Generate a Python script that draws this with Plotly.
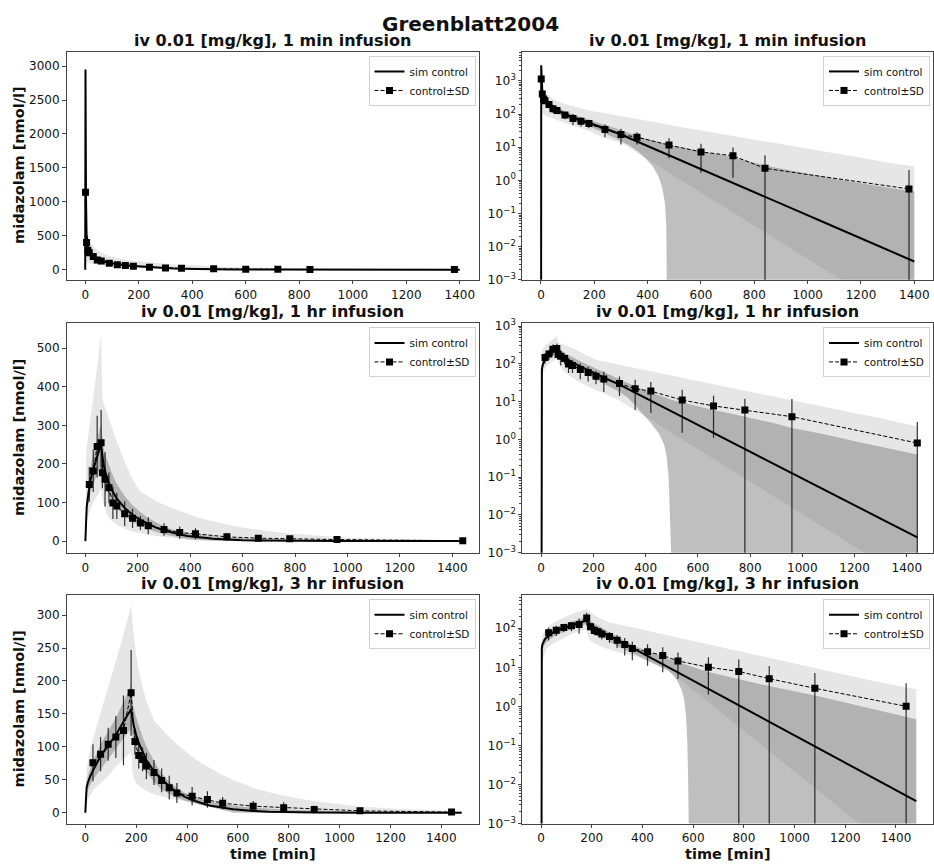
import numpy as np
import plotly.graph_objects as go

# ---------------- data ----------------
# 1 min infusion
t1_sim = [0, 1, 2, 3, 5, 10, 15, 20, 30, 45, 60, 90, 120, 150, 180, 240, 300, 330, 360, 390, 420, 440,
          455, 465, 470, 475, 480, 540, 600, 720, 840, 960, 1080, 1200, 1320, 1400]
sim1 = [0, 2950, 1700, 1050, 520, 330, 270, 240, 200, 160, 135, 100, 80, 66, 55, 36.5, 24.1, 18.9, 14.9,
        11.7, 9.22, 7.86, 6.97, 6.43, 6.18, 5.94, 5.70, 3.53, 2.18, 0.834, 0.319, 0.122, 0.0466, 0.0178,
        0.00679, 0.00358]
sdlo1 = [0, 2850, 1400, 850, 400, 255, 210, 188, 158, 126, 107, 79, 63, 52, 43, 26.5, 15.5, 11.5, 7.8, 4.8,
         2.6, 1.35, 0.6, 0.2, 0.04, 0, 0, 0, 0, 0, 0, 0, 0, 0, 0, 0]
sdhi1 = [0, 3000, 2000, 1250, 640, 405, 330, 292, 242, 194, 163, 121, 97, 80, 67, 46.5, 32.7, 26.3, 22,
         18.6, 15.8, 14.4, 13.3, 12.7, 12.3, 12.1, 11.8, 9.3, 7.7, 5.1, 2.8, 1.82, 1.2, 0.82, 0.57, 0.45]
min1 = [0, 1500, 800, 500, 110, 95, 90, 86, 80, 72, 66, 55, 46, 38, 31, 19, 13.5, 9.55, 6.76, 4.79, 3.39,
        2.69, 2.26, 2.02, 1.91, 1.80, 1.70, 0.85, 0.427, 0.107, 0.0269, 0.00676, 0.0017, 0.000427,
        0.000107, 0.0000427]
max1 = [0, 3080, 2100, 1400, 650, 480, 420, 390, 340, 290, 250, 200, 170, 145, 128, 105, 85, 78, 70, 64,
        58, 54.5, 52, 50.5, 49.7, 49, 47, 38.5, 32, 22, 15, 10, 7, 4.8, 3.2, 2.6]
t1_obs = [1, 5, 10, 15, 30, 45, 60, 90, 120, 150, 180, 240, 300, 360, 480, 600, 720, 840, 1380]
y1_obs = [1140, 400, 286, 250, 194, 144, 128, 93, 73, 60, 52, 34, 24, 20, 11.6, 7.2, 5.5, 2.3, 0.55]
sd1_obs = [300, 100, 60, 50, 45, 35, 30, 23, 27, 18, 15, 14, 12, 8, 7, 5.5, 4.3, 3.4, 1.5]

# 1 hr infusion
t2_sim = [0, 1, 2, 3, 5, 10, 15, 20, 30, 40, 50, 60, 65, 70, 80, 90, 105, 120, 150, 180, 210, 240, 270,
          300, 330, 360, 390, 420, 450, 470, 480, 488, 493, 497, 500, 520, 540, 600, 660, 720, 780, 900,
          960, 1080, 1200, 1320, 1440]
sim2 = [0, 30, 55, 70, 88, 115, 140, 160, 185, 210, 230, 250, 215, 195, 170, 150, 128, 110, 86, 68, 55,
        44, 35, 28.2, 22.1, 17.3, 13.5, 10.6, 8.27, 7.02, 6.47, 6.06, 5.82, 5.63, 5.50, 4.67, 3.96, 2.43,
        1.49, 0.91, 0.557, 0.209, 0.128, 0.048, 0.018, 0.00675, 0.00253]
sdlo2 = [0, 22, 40, 50, 66, 90, 110, 127, 147, 167, 182, 198, 170, 155, 135, 118, 100, 85, 65, 50, 39.5,
         30.5, 23.5, 18, 13, 8, 4.6, 2.7, 1.45, 0.75, 0.38, 0.1, 0.01, 0, 0, 0, 0, 0, 0, 0, 0, 0, 0, 0,
         0, 0, 0]
sdhi2 = [0, 38, 70, 90, 110, 140, 170, 193, 223, 253, 278, 302, 260, 240, 215, 195, 170, 148, 117, 93, 75,
         60, 48, 38, 31, 25.5, 21, 17.5, 14.5, 13.1, 12.4, 11.9, 11.6, 11.4, 11.2, 10.3, 9.5, 7.5, 6.0,
         4.9, 4.0, 2.6, 2.0, 1.4, 0.9, 0.6, 0.4]
min2 = [0, 15, 30, 40, 50, 65, 75, 85, 100, 112, 124, 135, 110, 95, 72, 60, 50, 43, 32, 25, 20, 16.5,
        13.5, 10.7, 8.0, 5.94, 4.42, 3.28, 2.44, 2.0, 1.81, 1.68, 1.6, 1.54, 1.5, 1.22, 1.0, 0.55, 0.305,
        0.168, 0.093, 0.0283, 0.0156, 0.00476, 0.00145, 0.00044, 0.000135]
max2 = [0, 120, 180, 210, 240, 270, 295, 320, 370, 420, 480, 536, 370, 355, 335, 315, 285, 258, 205, 160,
        128, 115, 104, 94, 86, 77, 70, 63, 57, 53.5, 52, 50.8, 50, 49.4, 49, 46, 43, 35, 29, 24, 19.5,
        13.2, 10.8, 7.3, 5, 3.4, 2.2]
t2_obs = [15, 30, 45, 60, 65, 75, 90, 105, 120, 150, 180, 210, 240, 300, 360, 420, 540, 660, 780, 960, 1440]
y2_obs = [147, 182, 245, 255, 177, 160, 138, 99, 91, 71, 59, 47, 40, 30, 22, 19, 11, 7.7, 6, 4, 0.8]
sd2_obs = [45, 55, 80, 85, 40, 70, 40, 42, 34, 32, 25, 18, 22, 16, 16, 14, 9.5, 6.6, 6, 7.8, 2.1]

# 3 hr infusion
t3_sim = [0, 1, 2, 3, 5, 10, 15, 20, 30, 45, 60, 90, 120, 150, 180, 185, 190, 200, 210, 225, 240, 270,
          300, 330, 360, 390, 420, 450, 480, 500, 520, 540, 555, 565, 572, 577, 580, 583, 600, 660, 720,
          780, 900, 1080, 1200, 1320, 1440, 1480]
sim3 = [0, 15, 25, 30, 38, 46, 52, 56, 64, 74, 86, 102, 118, 138, 157, 145, 133, 118, 106, 93, 80, 63,
        50.7, 39.8, 31.3, 24.5, 19.3, 15.1, 11.9, 10.1, 8.61, 7.33, 6.49, 5.99, 5.66, 5.44, 5.31, 5.18,
        4.52, 2.79, 1.72, 1.06, 0.403, 0.0944, 0.0359, 0.0136, 0.00519, 0.00376]
sdlo3 = [0, 10, 18, 22, 28, 34, 39, 43, 50, 58, 66, 82, 98, 113, 128, 118, 108, 95, 85, 72, 62, 47, 35,
         28.5, 23, 18.5, 15, 12, 10.0, 8.4, 6.3, 4.2, 2.6, 1.4, 0.55, 0.12, 0.015, 0, 0, 0, 0, 0, 0, 0,
         0, 0, 0, 0]
sdhi3 = [0, 18, 30, 36, 46, 56, 63, 68, 78, 90, 104, 124, 144, 168, 193, 175, 160, 145, 132, 115, 101, 78,
         60, 47, 37.5, 30.5, 25.5, 21.5, 18.5, 16.5, 15, 13.5, 12.6, 12.0, 11.6, 11.3, 11.1, 10.9, 10.0,
         7.6, 6.0, 4.9, 3.3, 1.9, 1.25, 0.82, 0.55, 0.47]
min3 = [0, 5, 8, 10, 14, 20, 24, 28, 34, 40, 45, 56, 70, 82, 92, 62, 52, 45, 41, 37, 33, 28, 24.5, 22, 20,
        17.5, 14, 11.8, 9.6, 8.4, 6.9, 5.6, 4.6, 4.1, 3.75, 3.52, 3.4, 3.28, 2.65, 1.29, 0.63, 0.306,
        0.072, 0.0082, 0.00192, 0.00045, 0.000106, 0.000065]
max3 = [0, 30, 45, 55, 65, 78, 88, 97, 112, 132, 150, 190, 230, 270, 315, 290, 270, 240, 215, 190, 170,
        140, 127, 115, 104, 94, 85, 77, 70, 65.5, 61.5, 57, 54.5, 52.5, 51.5, 50.5, 50, 49.5, 47, 38, 31.5,
        26, 17.5, 9.5, 6.4, 4.3, 3.1, 2.75]
t3_obs = [30, 60, 90, 120, 150, 180, 195, 210, 225, 240, 270, 300, 330, 360, 420, 480, 540, 660, 780, 900,
          1080, 1440]
y3_obs = [76, 89, 104, 115, 125, 182, 108, 87, 81, 71, 61, 49, 38, 30, 25, 20, 14.5, 10, 7.8, 5.1, 2.9, 1.0]
sd3_obs = [28, 26, 25, 32, 53, 65, 20, 20, 18, 20, 19, 18, 18, 15, 14, 12.5, 9.5, 8, 8, 5.7, 4.2, 2.9]

titles = ["iv 0.01 [mg/kg], 1 min infusion", "iv 0.01 [mg/kg], 1 hr infusion",
          "iv 0.01 [mg/kg], 3 hr infusion"]
suptitle = "Greenblatt2004"
ylabel = "midazolam [nmol/l]"
xlabel = "time [min]"
sim_label = "sim control"
obs_label = "control±SD"

# ---------------- layout geometry ----------------
W, H = 934, 868
FONT = "DejaVu Sans"
col_px = [(66.5, 478.5), (522.3, 933.0)]
row_px = [(46.7, 278.0), (322.3, 555.0), (598.3, 830.0)]
x_ranges = [[-70, 1470], [-72, 1500], [-74, 1546]]
ylin_ranges = [[-150, 3208], [-30, 564], [-16.4, 330]]
ylin_dtick = [500, 100, 50]
ylog_ranges = [[-3, 3.87], [-3, 3.07], [-3, 2.84]]

conds = [
    (t1_sim, sim1, sdlo1, sdhi1, min1, max1, t1_obs, y1_obs, sd1_obs),
    (t2_sim, sim2, sdlo2, sdhi2, min2, max2, t2_obs, y2_obs, sd2_obs),
    (t3_sim, sim3, sdlo3, sdhi3, min3, max3, t3_obs, y3_obs, sd3_obs),
]

SD_FILL = "rgba(128,128,128,0.5)"
MM_FILL = "rgba(128,128,128,0.2)"
SPINE = "#444444"

fig = go.Figure()
layout = dict(width=W, height=H, margin=dict(l=0, r=0, t=0, b=0), autosize=False,
              paper_bgcolor="white", plot_bgcolor="white", showlegend=True,
              font=dict(family=FONT, color="#111111"))
annotations = []

for r, (ts, sm, lo, hi, mn, mx, to, yo, so) in enumerate(conds):
    for c in range(2):
        idx = r * 2 + c + 1
        xa = "x" if idx == 1 else f"x{idx}"
        ya = "y" if idx == 1 else f"y{idx}"
        leg = "legend" if idx == 1 else f"legend{idx}"
        is_log = c == 1
        tsa = np.array(ts, dtype=float)

        def prep(a):
            a = np.array(a, dtype=float)
            return np.clip(a, 1e-12, None) if is_log else a

        # SD band
        fig.add_trace(go.Scatter(x=tsa, y=prep(lo), mode="lines", line=dict(width=0, color=SD_FILL),
                                 showlegend=False, hoverinfo="skip", xaxis=xa, yaxis=ya, legend=leg))
        fig.add_trace(go.Scatter(x=tsa, y=prep(hi), mode="lines", line=dict(width=0, color=SD_FILL),
                                 fill="tonexty", fillcolor=SD_FILL, showlegend=False, hoverinfo="skip",
                                 xaxis=xa, yaxis=ya, legend=leg))
        # min-max band
        fig.add_trace(go.Scatter(x=tsa, y=prep(mn), mode="lines", line=dict(width=0, color=MM_FILL),
                                 showlegend=False, hoverinfo="skip", xaxis=xa, yaxis=ya, legend=leg))
        fig.add_trace(go.Scatter(x=tsa, y=prep(mx), mode="lines", line=dict(width=0, color=MM_FILL),
                                 fill="tonexty", fillcolor=MM_FILL, showlegend=False, hoverinfo="skip",
                                 xaxis=xa, yaxis=ya, legend=leg))
        # simulation
        fig.add_trace(go.Scatter(x=tsa, y=prep(sm), mode="lines", line=dict(color="black", width=2),
                                 name=sim_label, legend=leg, xaxis=xa, yaxis=ya))
        # observations
        fig.add_trace(go.Scatter(x=to, y=yo, mode="lines+markers", name=obs_label, legend=leg,
                                 line=dict(color="black", width=1, dash="4px,2px"),
                                 marker=dict(symbol="square", size=7, color="black"),
                                 error_y=dict(type="data", array=so, color="rgba(0,0,0,0.8)",
                                              thickness=1.2, width=0),
                                 xaxis=xa, yaxis=ya))

        x0, x1 = col_px[c]
        top, bot = row_px[r]
        xd = [x0 / W, x1 / W]
        yd = [1 - bot / H, 1 - top / H]
        axis_common = dict(showline=True, linecolor=SPINE, linewidth=1, mirror=True,
                           ticks="outside", ticklen=3.5, tickwidth=1, tickcolor=SPINE,
                           showgrid=False, zeroline=False)
        tf = dict(family=FONT, size=12, color="#111111")
        layout["xaxis" if idx == 1 else f"xaxis{idx}"] = dict(
            domain=xd, range=x_ranges[r], anchor=ya, tick0=0, dtick=200, tickfont=tf, **axis_common)
        if is_log:
            yax = dict(domain=yd, range=ylog_ranges[r], anchor=xa, type="log", dtick=1,
                       exponentformat="power",
                       labelalias={"1": "10<sup>0</sup>", "10": "10<sup>1</sup>"},
                       tickfont=dict(family=FONT, size=9.8, color="#111111"),
                       minor=dict(ticks="outside", ticklen=2, tickcolor=SPINE, dtick="D1", showgrid=False),
                       **axis_common)
        else:
            yax = dict(domain=yd, range=ylin_ranges[r], anchor=xa, tick0=0, dtick=ylin_dtick[r],
                       tickfont=tf, **axis_common)
        layout["yaxis" if idx == 1 else f"yaxis{idx}"] = yax

        layout[leg] = dict(x=(x1 - 3) / W, y=1 - (top + 4) / H, xanchor="right", yanchor="top",
                           bgcolor="rgba(255,255,255,0.8)", bordercolor="#d0d0d0", borderwidth=1,
                           traceorder="normal",
                           font=dict(family=FONT, size=10.5, color="#111111"), tracegroupgap=0)

        annotations.append(dict(text=f"<b>{titles[r]}</b>", x=(x0 + x1) / 2 / W, y=1 - (top - 1) / H,
                                xref="paper", yref="paper", xanchor="center", yanchor="bottom",
                                borderpad=0, showarrow=False,
                                font=dict(family=FONT, size=16, color="#111111")))
        if c == 0:
            annotations.append(dict(text=f"<b>{ylabel}</b>", x=19 / W, y=1 - (top + bot) / 2 / H,
                                    xref="paper", yref="paper", xanchor="center", yanchor="middle",
                                    textangle=-90, showarrow=False,
                                    font=dict(family=FONT, size=14.5, color="#111111")))
        if r == 2:
            annotations.append(dict(text=f"<b>{xlabel}</b>", x=(x0 + x1) / 2 / W, y=1 - 870 / H,
                                    xref="paper", yref="paper", xanchor="center", yanchor="bottom",
                                    borderpad=0, showarrow=False,
                                    font=dict(family=FONT, size=14.5, color="#111111")))

annotations.append(dict(text=f"<b>{suptitle}</b>", x=470 / W, y=1 - 18 / H, xref="paper", yref="paper",
                        xanchor="center", yanchor="middle", showarrow=False,
                        font=dict(family=FONT, size=20, color="#111111")))
layout["annotations"] = annotations
fig.update_layout(**layout)
fig.write_html("out.html", post_script="document.body.style.margin='0';")
